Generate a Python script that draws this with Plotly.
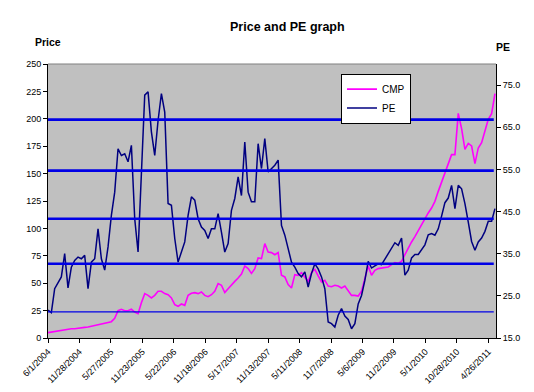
import pandas as pd
import plotly.graph_objects as go

# ---- data ----
start_date = "2004-06-01"
end_date = "2011-06-03"

pe_values = [
    21.6, 21.0, 26.7, 28.3, 29.5, 35.0, 26.9, 31.8, 33.4, 34.2,
    33.8, 34.6, 26.7, 33.0, 33.8, 40.9, 33.8, 31.1, 36.6, 44.1,
    49.6, 59.9, 58.3, 58.7, 56.8, 60.7, 43.3, 35.4, 56.0, 72.6,
    73.4, 63.9, 58.3, 66.6, 73.0, 68.6, 46.9, 46.5, 38.6, 33.0,
    35.4, 37.8, 44.1, 48.5, 47.7, 43.3, 41.3, 40.5, 38.6, 40.9,
    40.9, 44.5, 40.1, 35.4, 37.4, 45.3, 48.1, 53.2, 48.8, 61.5,
    49.6, 47.3, 47.3, 61.1, 55.2, 62.3, 54.4, 55.2, 56.0, 57.2,
    41.7, 39.4, 36.2, 33.0, 31.8, 30.3, 29.5, 30.7, 27.1, 30.3,
    32.6, 31.4, 29.5, 26.7, 18.8, 18.4, 17.6, 20.4, 22.0, 20.2,
    19.4, 17.2, 18.4, 23.1, 25.1, 28.7, 33.2, 31.6, 32.1, 32.6,
    32.4, 33.7, 35.0, 36.2, 37.6, 37.0, 38.7, 29.9, 31.1, 34.0,
    34.8, 34.8, 36.0, 37.1, 39.5, 39.8, 39.4, 40.9, 43.9, 47.1,
    48.2, 51.2, 45.7, 51.2, 50.4, 46.9, 42.5, 37.9, 35.8, 37.8,
    38.7, 40.3, 42.7, 42.7, 45.7,
]

cmp_values = [
    4.9, 5.5, 6.1, 6.7, 7.0, 7.6, 8.5, 8.5, 8.5, 9.1,
    9.4, 9.7, 10.0, 10.6, 11.6, 11.9, 12.5, 13.1, 13.7, 14.9,
    17.9, 24.9, 26.2, 24.9, 24.9, 26.2, 23.7, 22.2, 32.2, 40.5,
    38.9, 36.5, 38.9, 42.6, 42.6, 40.5, 39.5, 36.5, 30.4, 28.9,
    31.0, 29.8, 38.9, 40.8, 41.4, 40.5, 42.0, 38.9, 37.7, 39.5,
    42.6, 49.6, 48.1, 41.4, 45.0, 48.7, 51.7, 54.7, 58.4, 65.7,
    63.3, 59.0, 63.3, 73.0, 72.4, 86.1, 78.5, 77.9, 76.0, 77.9,
    57.2, 55.7, 48.7, 45.6, 57.8, 57.2, 59.6, 55.4, 51.7, 59.6,
    62.7, 56.6, 51.1, 52.6, 47.4, 46.8, 48.1, 47.4, 45.6, 47.4,
    43.2, 38.9, 38.9, 38.3, 42.6, 54.1, 65.7, 57.2, 61.7, 63.3,
    63.9, 63.9, 64.8, 66.9, 68.7, 68.1, 70.0, 76.0, 82.1, 87.6,
    92.5, 98.2, 103.4, 109.5, 114.1, 118.6, 124.7, 133.8, 141.7, 151.5,
    158.2, 167.3, 167.3, 205.0, 191.0, 172.1, 177.6, 175.2, 159.1, 173.4,
    178.2, 189.5, 199.5, 204.7, 222.9,
]

# PE reference levels (thick bands and thin lower line)
pe_levels_thick = [66.8, 54.7, 43.3, 32.6]
pe_levels_thin = [21.2]

x_tick_labels = [
    "6/1/2004", "11/28/2004", "5/27/2005", "11/23/2005", "5/22/2006",
    "11/18/2006", "5/17/2007", "11/13/2007", "5/11/2008", "11/7/2008",
    "5/6/2009", "11/2/2009", "5/1/2010", "10/28/2010", "4/26/2011",
]
price_ticks = [0, 25, 50, 75, 100, 125, 150, 175, 200, 225, 250]
pe_ticks = [15, 25, 35, 45, 55, 65, 75]

# ---- build figure ----
dates = pd.date_range(start_date, end_date, periods=len(pe_values))
tick_dates = pd.to_datetime(x_tick_labels, format="%m/%d/%Y")

FONT = "Liberation Sans, Arial, sans-serif"

fig = go.Figure()
fig.add_trace(go.Scatter(
    x=dates, y=cmp_values, name="CMP", mode="lines",
    line=dict(color="#FF00FF", width=1.6), yaxis="y",
))
fig.add_trace(go.Scatter(
    x=dates, y=pe_values, name="PE", mode="lines",
    line=dict(color="#000080", width=1.5), yaxis="y2",
))

shapes = []
for lv in pe_levels_thick:
    shapes.append(dict(type="line", xref="paper", yref="y2", x0=0, x1=0.995,
                       y0=lv, y1=lv, line=dict(color="#0000E6", width=2.6),
                       layer="above"))
for lv in pe_levels_thin:
    shapes.append(dict(type="line", xref="paper", yref="y2", x0=0, x1=0.995,
                       y0=lv, y1=lv, line=dict(color="#0000E6", width=1.2),
                       layer="above"))
# gray top border of plot area
shapes.append(dict(type="line", xref="paper", yref="paper", x0=0, x1=1, y0=1, y1=1,
                   line=dict(color="#808080", width=1.2)))
# chart area border at bottom
shapes.append(dict(type="line", xref="paper", yref="paper", x0=-0.0893, x1=1.0677,
                   y0=-0.2135, y1=-0.2135, line=dict(color="#000000", width=1)))

fig.update_layout(
    width=534, height=392,
    margin=dict(l=40, r=46, t=56, b=62, autoexpand=False),
    paper_bgcolor="white",
    plot_bgcolor="#C0C0C0",
    font=dict(family=FONT, size=9, color="black"),
    showlegend=True,
    legend=dict(
        x=0.654, y=0.965, xanchor="left", yanchor="top",
        bgcolor="white", bordercolor="black", borderwidth=1,
        font=dict(family=FONT, size=10, color="black"),
        itemwidth=30, tracegroupgap=0,
    ),
    xaxis=dict(
        type="date",
        range=["2004-06-01", "2011-06-09"],
        tickvals=tick_dates, ticktext=x_tick_labels,
        tickangle=-45, ticks="outside", ticklen=4, tickcolor="black",
        showline=True, linecolor="black", linewidth=1,
        showgrid=False, zeroline=False,
        tickfont=dict(family=FONT, size=9),
    ),
    yaxis=dict(
        range=[0, 250], tickvals=price_ticks,
        ticks="outside", ticklen=4, tickcolor="black",
        showline=True, linecolor="black", linewidth=1,
        showgrid=False, zeroline=False,
        tickfont=dict(family=FONT, size=9),
    ),
    yaxis2=dict(
        range=[15, 80], tickvals=pe_ticks, tickformat=".1f",
        overlaying="y", side="right",
        ticks="outside", ticklen=4, tickcolor="black",
        showline=True, linecolor="black", linewidth=1,
        showgrid=False, zeroline=False,
        tickfont=dict(family=FONT, size=9),
    ),
    shapes=shapes,
    annotations=[
        dict(text="<b>Price and PE graph</b>", xref="paper", yref="paper",
             x=0.534, y=1.135, showarrow=False, xanchor="center", yanchor="middle",
             font=dict(family=FONT, size=12.5)),
        dict(text="<b>Price</b>", xref="paper", yref="paper",
             x=0.0, y=1.08, showarrow=False, xanchor="center", yanchor="middle",
             font=dict(family=FONT, size=10.5)),
        dict(text="<b>PE</b>", xref="paper", yref="paper",
             x=1.016, y=1.062, showarrow=False, xanchor="center", yanchor="middle",
             font=dict(family=FONT, size=10.5)),
    ],
)

fig.write_html("out.html")
